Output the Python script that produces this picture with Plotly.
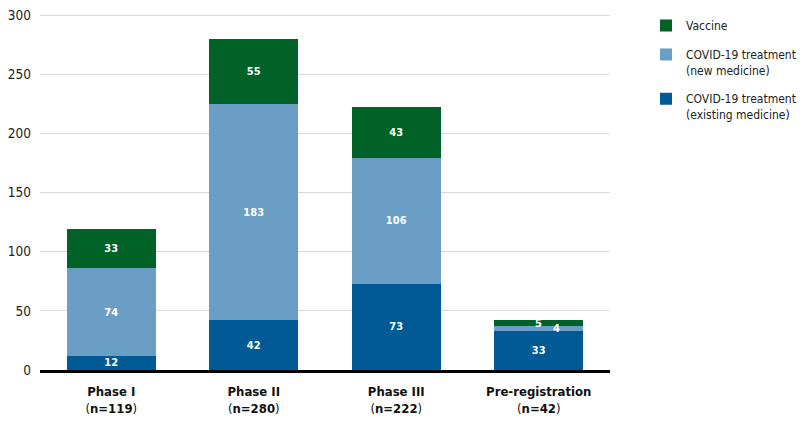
import plotly.graph_objects as go

categories = ["Phase I", "Phase II", "Phase III", "Pre-registration"]
n_totals = [119, 280, 222, 42]
existing = [12, 42, 73, 33]
new_med = [74, 183, 106, 4]
vaccine = [33, 55, 43, 5]
y_ticks = [0, 50, 100, 150, 200, 250, 300]

series = [
    ("COVID-19 treatment<br>(existing medicine)", existing, "#005a96"),
    ("COVID-19 treatment<br>(new medicine)", new_med, "#6a9ec4"),
    ("Vaccine", vaccine, "#006227"),
]

x_labels = [f"<b>{c}</b><br>(<b>n={n}</b>)" for c, n in zip(categories, n_totals)]
FONT = "DejaVu Sans Condensed, Roboto"
SMALL = 10

fig = go.Figure()
for k, (name, vals, color) in enumerate(series):
    fig.add_trace(go.Bar(
        x=x_labels, y=vals, name=name, legendgroup=f"g{k}",
        legendrank=len(series) - k,
        marker=dict(color=color, line=dict(width=0)),
        text=[f"<b>{v}</b>" if v >= SMALL else "" for v in vals],
        textposition="inside", insidetextanchor="middle", textangle=0,
        textfont=dict(color="white", size=11, family=FONT),
        hoverinfo="skip",
    ))

annotations = []
for i, xl in enumerate(x_labels):
    base = 0
    for name, vals, color in series:
        v = vals[i]
        if v < SMALL:
            mid = base + v / 2
            annotations.append(dict(
                x=xl, y=mid, text=f"<b>{v}</b>", showarrow=False,
                font=dict(color="white", size=11, family=FONT),
                xshift=18 if name.startswith("COVID") else 0,
            ))
        base += v

fig.update_layout(
    width=805, height=427,
    barmode="stack", bargap=0.375,
    plot_bgcolor="white", paper_bgcolor="white",
    margin=dict(l=32, r=203, t=6, b=65, autoexpand=False),
    font=dict(family=FONT, size=13, color="#222222"),
    uniformtext=dict(minsize=11, mode="show"),
    legend=dict(
        x=(646 - 40) / 570, y=1.008, xanchor="left", yanchor="top",
        traceorder="grouped", valign="top", tracegroupgap=10,
        font=dict(size=12, family=FONT, color="#222222"),
        itemclick=False,
    ),
    annotations=annotations,
    showlegend=True,
)
fig.update_xaxes(
    showline=True, linecolor="black", linewidth=3,
    tickfont=dict(size=13, family=FONT, color="#111111"),
    showgrid=False, ticks="", ticklabelstandoff=7,
)
fig.update_yaxes(
    range=[0, 301], tickvals=y_ticks, showgrid=True, gridcolor="#d9d9d9", gridwidth=1,
    zeroline=False, showline=False, ticks="",
    tickfont=dict(size=13.5, family=FONT, color="#222222"),
    ticklabelstandoff=8, ticklabeloverflow="allow",
)

fig.write_html("out.html")
